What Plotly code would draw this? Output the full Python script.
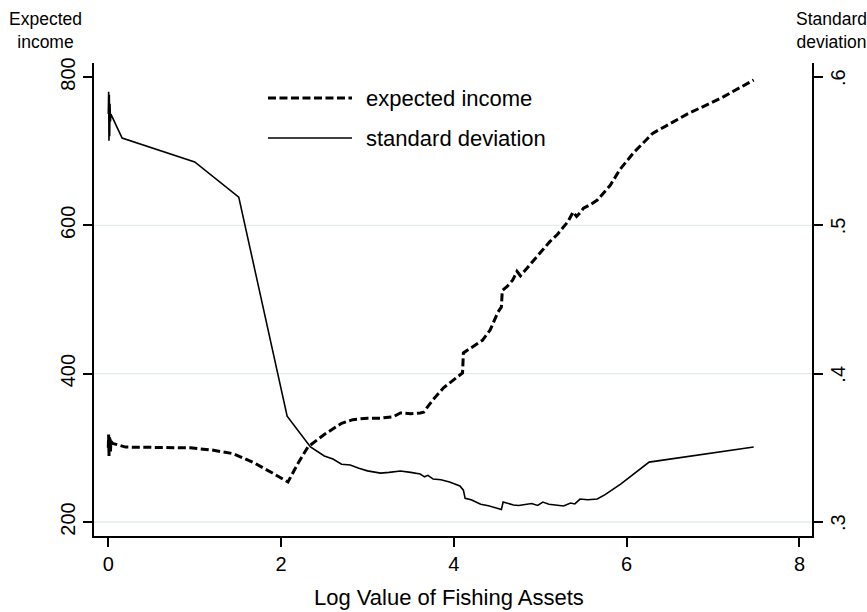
import plotly.graph_objects as go

# Expected income by log value of fishing assets
income_x = [0.000, 0.004, 0.008, 0.012, 0.016, 0.020, 0.025, 0.030, 0.05, 0.20,
            0.95, 1.20, 1.45, 1.70, 1.90, 2.08, 2.20, 2.31, 2.50, 2.70, 2.83,
            3.00, 3.15, 3.30, 3.38, 3.50, 3.61, 3.65, 3.70, 3.76, 3.88, 3.98,
            4.05, 4.10, 4.11, 4.22, 4.33, 4.42, 4.51, 4.55, 4.56, 4.62, 4.68,
            4.73, 4.77, 4.80, 4.88, 5.03, 5.11, 5.20, 5.26, 5.32, 5.38, 5.42,
            5.46, 5.50, 5.58, 5.66, 5.81, 5.92, 6.08, 6.30, 6.70, 7.10, 7.47]
income_y = [300, 318, 289, 316, 291, 313, 295, 309, 306, 301,
            300, 297, 292, 279, 266, 254, 280, 301, 318, 333, 338,
            340, 340, 342, 347, 346, 347, 348, 356, 365, 381, 390,
            396, 401, 428, 436, 445, 459, 483, 490, 512, 518, 526,
            538, 532, 536, 547, 567, 578, 588, 597, 605, 618, 612,
            617, 623, 628, 634, 654, 675, 698, 724, 750, 772, 796]

# Standard deviation of income
sd_x = [0.000, 0.004, 0.008, 0.012, 0.016, 0.020, 0.025, 0.030, 0.16, 1.00,
        1.51, 2.07, 2.34, 2.50, 2.60, 2.70, 2.80, 2.90, 3.00, 3.15, 3.25,
        3.38, 3.50, 3.61, 3.66, 3.70, 3.76, 3.85, 3.95, 4.07, 4.11, 4.13,
        4.20, 4.25, 4.31, 4.40, 4.46, 4.51, 4.55, 4.57, 4.62, 4.69, 4.75,
        4.80, 4.90, 4.97, 5.03, 5.10, 5.20, 5.27, 5.35, 5.40, 5.46, 5.55,
        5.66, 5.75, 5.93, 6.16, 6.26, 7.47]
sd_y = [0.575, 0.590, 0.557, 0.588, 0.560, 0.582, 0.570, 0.575, 0.5588, 0.5427,
        0.519, 0.3714, 0.3506, 0.3445, 0.3425, 0.3390, 0.3385, 0.3362, 0.3345, 0.3330, 0.3335,
        0.3344, 0.3335, 0.3324, 0.3305, 0.3315, 0.3290, 0.3285, 0.3270, 0.3243, 0.3215, 0.3160,
        0.3150, 0.3138, 0.3120, 0.3110, 0.3100, 0.3094, 0.3085, 0.3135, 0.3125, 0.3115, 0.3112,
        0.3118, 0.3125, 0.3112, 0.3135, 0.3120, 0.3112, 0.3108, 0.3128, 0.3122, 0.3155, 0.3150,
        0.3155, 0.3185, 0.3256, 0.3357, 0.3404, 0.3506]

x_ticks = [0, 2, 4, 6, 8]
income_ticks = [200, 400, 600, 800]
sd_ticks = [0.3, 0.4, 0.5, 0.6]
sd_tick_text = [".3", ".4", ".5", ".6"]
grid_values = [200, 400, 600]

FONT = "Liberation Sans, Arial, sans-serif"
INK = "#000000"

fig = go.Figure()
fig.add_trace(go.Scatter(
    x=income_x, y=income_y, mode="lines", name="expected income",
    line=dict(color=INK, width=3, dash="8px,3.5px"), yaxis="y", hoverinfo="skip",
))
fig.add_trace(go.Scatter(
    x=sd_x, y=sd_y, mode="lines", name="standard deviation",
    line=dict(color=INK, width=1.6), yaxis="y2", hoverinfo="skip",
))

# light horizontal grid
for g in grid_values:
    fig.add_shape(type="line", xref="paper", yref="y", x0=0, x1=1, y0=g, y1=g,
                  line=dict(color="#e2ebee", width=1.4), layer="below")

# legend drawn inside the plot region
legend_rows = [("expected income", dict(color=INK, width=3, dash="8px,3.5px"), 0.926),
               ("standard deviation", dict(color=INK, width=1.6), 0.8414)]
for label, style, ypos in legend_rows:
    fig.add_shape(type="line", xref="paper", yref="paper",
                  x0=0.2423, x1=0.3593, y0=ypos, y1=ypos, line=style)
    fig.add_annotation(text=label, xref="paper", yref="paper", x=0.3755, y=ypos,
                       xanchor="left", yanchor="middle", showarrow=False,
                       font=dict(family=FONT, size=22, color=INK))

# rotated tick labels for the right-hand (standard deviation) axis
for val, txt in zip(sd_ticks, sd_tick_text):
    fig.add_annotation(text=txt, xref="paper", yref="y2", x=1.0362, y=val,
                       xanchor="center", yanchor="middle", textangle=-90,
                       showarrow=False, font=dict(family=FONT, size=20, color=INK))

# axis titles
fig.add_annotation(text="Expected<br>income", xref="paper", yref="paper",
                   x=-0.067, y=1.068, xanchor="center", yanchor="middle", showarrow=False,
                   font=dict(family=FONT, size=17.5, color=INK))
fig.add_annotation(text="Standard<br>deviation", xref="paper", yref="paper",
                   x=1.0265, y=1.068, xanchor="center", yanchor="middle", showarrow=False,
                   font=dict(family=FONT, size=17.5, color=INK))
fig.add_annotation(text="Log Value of Fishing Assets", xref="paper", yref="paper",
                   x=0.495, y=-0.129, xanchor="center", yanchor="middle", showarrow=False,
                   font=dict(family=FONT, size=22, color=INK))

axis_common = dict(showline=True, linecolor=INK, linewidth=1.5, ticks="outside",
                   ticklen=9, tickwidth=1.5, tickcolor=INK, showgrid=False,
                   zeroline=False, automargin=False,
                   tickfont=dict(family=FONT, size=20, color=INK))

fig.update_layout(
    width=867, height=612,
    margin=dict(l=94, r=55, t=63, b=76),
    paper_bgcolor="white", plot_bgcolor="white",
    showlegend=False,
    xaxis=dict(range=[-0.1655, 8.145], tickvals=x_ticks, **axis_common),
    yaxis=dict(range=[181.1, 818.9], tickvals=income_ticks, tickangle=-90, **axis_common),
    yaxis2=dict(range=[0.2906, 0.6094], tickvals=sd_ticks, showticklabels=False,
                overlaying="y", side="right", **axis_common),
)

fig.write_html("out.html")
